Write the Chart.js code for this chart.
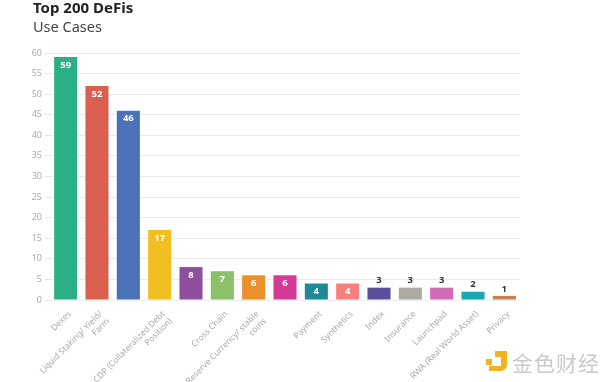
<!DOCTYPE html>
<html><head><meta charset="utf-8">
<script src="https://cdn.jsdelivr.net/npm/chart.js@4/dist/chart.umd.min.js"></script>
<style>
html,body{margin:0;padding:0;background:#fff;}
#wrap{position:relative;width:600px;height:382px;overflow:hidden;}
#t1{position:absolute;left:33px;top:-3px;font:bold 15px "Noto Sans",sans-serif;color:#222;}
#t2{position:absolute;left:33px;top:16px;font:14.5px "Noto Sans",sans-serif;color:#444;}
#wm{position:absolute;left:512px;top:347px;font:21px "Noto Sans CJK SC",sans-serif;color:#cacaca;letter-spacing:1px;}
#logo{position:absolute;left:486px;top:350px;width:22px;height:22px;}
canvas{position:absolute;left:0;top:0;}
</style></head>
<body><div id="wrap">
<canvas id="c" width="600" height="382"></canvas>
<div id="t1">Top 200 DeFis</div>
<div id="t2">Use Cases</div>
<svg id="logo" viewBox="0 0 22 22"><rect x="0" y="9" width="6" height="6" fill="#f3b321"/><path d="M9 1h6v6h-6z M15 1h6v14a6 6 0 0 1-6 6h-12v-5h12z" fill="#f3b321"/></svg>
<div id="wm">金色财经</div>
</div>
<script>
const categories = ["Dexes", ["Liquid Staking/ Yield/","Farm"], "Lending", ["CDP (Collateralized Debt","Position)"], "Derivatives", "Cross Chain", ["Reserve Currency/ stable","coins"], "Services", "Payment", "Synthetics", "Index", "Insurance", "Launchpad", "RWA (Real World Asset)", "Privacy"];
const tickLabels = ["Dexes", ["Liquid Staking/ Yield/","Farm"], "", ["CDP (Collateralized Debt","Position)"], "", "Cross Chain", ["Reserve Currency/ stable","coins"], "", "Payment", "Synthetics", "Index", "Insurance", "Launchpad", "RWA (Real World Asset)", "Privacy"];
const values = [59, 52, 46, 17, 8, 7, 6, 6, 4, 4, 3, 3, 3, 2, 1];
const colors = ["#2bb086", "#d9604f", "#4a72b8", "#f1bf22", "#8f4f9d", "#8cc16a", "#e98f2b", "#d53a98", "#1b8a94", "#f77f7c", "#5a4f9a", "#aaaaa0", "#d06cb6", "#1aa7b0", "#c0804f"];
const yTicks = [0,5,10,15,20,25,30,35,40,45,50,55,60];

const labelPlugin = {
  id: 'barLabels',
  afterDatasetsDraw(chart) {
    const ctx = chart.ctx;
    const meta = chart.getDatasetMeta(0);
    ctx.save();
    ctx.font = 'bold 9.5px "Noto Sans", sans-serif';
    ctx.textAlign = 'center';
    ctx.textBaseline = 'middle';
    meta.data.forEach((bar, i) => {
      const v = values[i];
      if (v >= 4) {
        ctx.fillStyle = '#ffffff';
        ctx.fillText(String(v), bar.x, bar.y + 8);
      } else {
        ctx.fillStyle = '#333333';
        ctx.fillText(String(v), bar.x, bar.y - 7);
      }
    });
    ctx.restore();
  }
};

new Chart(document.getElementById('c'), {
  type: 'bar',
  data: {
    labels: categories,
    datasets: [{ data: values, backgroundColor: colors, borderWidth: 0, barPercentage: 0.8, categoryPercentage: 0.92 }]
  },
  options: {
    responsive: false,
    animation: false,
    devicePixelRatio: 1,
    layout: { padding: { left: 0, right: 80, top: 53, bottom: 0 } },
    plugins: { legend: { display: false }, tooltip: { enabled: false } },
    scales: {
      x: {
        grid: { display: false },
        border: { display: false },
        ticks: {
          color: '#aaaaaa',
          font: { size: 8.5, family: '"Noto Sans", sans-serif' },
          maxRotation: 45, minRotation: 45, autoSkip: false, padding: 1,
          labelOffset: 4,
          callback: (v, i) => tickLabels[i]
        },
        afterFit: s => { s.height = 82; }
      },
      y: {
        min: 0, max: 60,
        afterBuildTicks: s => { s.ticks = yTicks.map(v => ({ value: v })); },
        grid: { color: '#ececec', tickLength: 5, drawTicks: true, tickColor: '#e4e4e4' },
        border: { display: false },
        ticks: { color: '#aaaaaa', font: { size: 9, family: '"Noto Sans", sans-serif' }, padding: 3 },
        afterFit: s => { s.width = 50; }
      }
    }
  },
  plugins: [labelPlugin]
});
</script>
</body></html>
